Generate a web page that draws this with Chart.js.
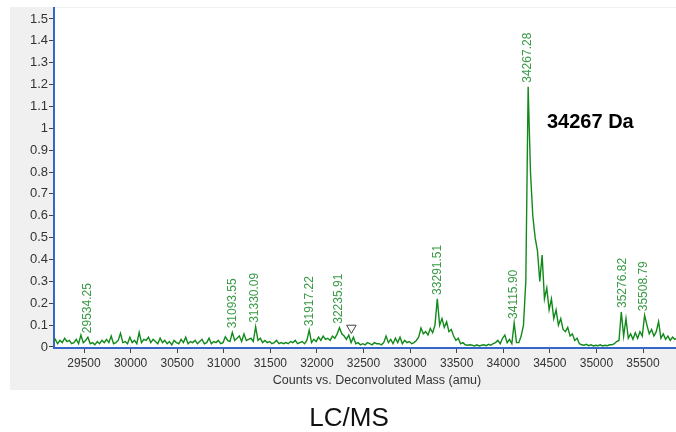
<!DOCTYPE html>
<html>
<head>
<meta charset="utf-8">
<script src="https://cdn.jsdelivr.net/npm/chart.js@4.4.0/dist/chart.umd.min.js"></script>
<style>
  body { margin: 0; background: #fff; overflow: hidden; }
  canvas { display: block; }
</style>
</head>
<body>
<canvas id="msChart" width="676" height="432"></canvas>
<script>
// deconvoluted mass spectrum, sampled every 25 amu starting at 29167
const massStart = 29167;
const massStep = 25;
const counts = [
  0.02, 0.035, 0.015, 0.03, 0.02, 0.04, 0.025, 0.03, 0.015, 0.02, 0.035, 0.015, 0.055, 0.02, 0.03, 0.045, 0.015, 0.02, 0.01, 0.025,
  0.015, 0.03, 0.02, 0.035, 0.02, 0.05, 0.015, 0.02, 0.03, 0.063, 0.02, 0.025, 0.015, 0.045, 0.02, 0.03, 0.015, 0.067, 0.02, 0.035,
  0.03, 0.045, 0.02, 0.035, 0.025, 0.015, 0.04, 0.02, 0.03, 0.015, 0.025, 0.01, 0.03, 0.02, 0.015, 0.035, 0.02, 0.045, 0.015, 0.025,
  0.02, 0.03, 0.015, 0.025, 0.035, 0.015, 0.02, 0.04, 0.015, 0.025, 0.02, 0.03, 0.015, 0.02, 0.047, 0.03, 0.025, 0.067, 0.03, 0.04,
  0.05, 0.025, 0.06, 0.03, 0.035, 0.04, 0.025, 0.092, 0.03, 0.04, 0.02, 0.03, 0.02, 0.025, 0.015, 0.02, 0.03, 0.015, 0.02, 0.015,
  0.02, 0.015, 0.025, 0.02, 0.03, 0.015, 0.02, 0.025, 0.015, 0.03, 0.077, 0.02, 0.035, 0.025, 0.045, 0.03, 0.05, 0.035, 0.04, 0.03,
  0.05, 0.04, 0.06, 0.088, 0.06, 0.05, 0.035, 0.055, 0.02, 0.045, 0.015, 0.02, 0.01, 0.015, 0.01, 0.02, 0.015, 0.01, 0.02, 0.015,
  0.015, 0.01, 0.02, 0.05, 0.02, 0.035, 0.015, 0.04, 0.02, 0.045, 0.015, 0.03, 0.02, 0.025, 0.015, 0.02, 0.03, 0.045, 0.087, 0.06,
  0.07, 0.055, 0.085, 0.065, 0.1, 0.22, 0.1, 0.13, 0.09, 0.115, 0.07, 0.08, 0.05, 0.03, 0.04, 0.015, 0.02, 0.01, 0.008, 0.01,
  0.008, 0.005, 0.01, 0.005, 0.008, 0.01, 0.006, 0.012, 0.008, 0.015, 0.02, 0.03, 0.015, 0.04, 0.055, 0.02, 0.035, 0.015, 0.11, 0.02,
  0.02, 0.05, 0.1, 0.3, 1.19, 0.8, 0.6, 0.5, 0.44, 0.3, 0.42, 0.22, 0.27, 0.17, 0.22, 0.13, 0.17, 0.1, 0.13, 0.08,
  0.07, 0.09, 0.05, 0.06, 0.03, 0.04, 0.015, 0.01, 0.008, 0.012, 0.006, 0.01, 0.005, 0.008, 0.006, 0.01, 0.005, 0.008, 0.006, 0.01,
  0.01, 0.015, 0.025, 0.03, 0.16, 0.05, 0.13, 0.04, 0.06, 0.035, 0.065, 0.04, 0.07, 0.05, 0.145, 0.1, 0.06, 0.08, 0.05, 0.07,
  0.116, 0.04, 0.06, 0.035, 0.05, 0.03, 0.045, 0.035, 0.04
];

// labelled peaks
const peakMasses = [29534.25, 31093.55, 31330.09, 31917.22, 32235.91, 33291.51, 34115.90, 34267.28, 35276.82, 35508.79];
const peakTops = [0.045, 0.067, 0.092, 0.077, 0.088, 0.22, 0.11, 1.19, 0.16, 0.145];

// open triangle marker
const markerMass = [32370];
const markerCount = [0.087];

const xTicks = [29500, 30000, 30500, 31000, 31500, 32000, 32500, 33000, 33500, 34000, 34500, 35000, 35500];
const yTicks = [0, 0.1, 0.2, 0.3, 0.4, 0.5, 0.6, 0.7, 0.8, 0.9, 1, 1.1, 1.2, 1.3, 1.4, 1.5];

const FONT = 'Arial, "Liberation Sans", sans-serif';

const spectrum = counts.map((c, i) => ({ x: massStart + i * massStep, y: c }));

// panel background, peak labels and extra text
const decorations = {
    id: "decorations",
    beforeDraw(chart) {
        const ctx = chart.ctx;
        const a = chart.chartArea;
        ctx.save();
        ctx.fillStyle = "#ffffff";
        ctx.fillRect(0, 0, chart.width, chart.height);
        ctx.fillStyle = "#f0f0f0";
        ctx.fillRect(10, 7, chart.width - 10, 383);
        ctx.fillStyle = "#ffffff";
        ctx.fillRect(a.left, a.top, chart.width - a.left, a.bottom - a.top);
        ctx.restore();
    },
    afterDatasetsDraw(chart) {
        const ctx = chart.ctx;
        const xs = chart.scales.x;
        const ys = chart.scales.y;
        ctx.save();
        ctx.font = "12px " + FONT;
        ctx.fillStyle = "#3a9a46";
        ctx.textAlign = "left";
        ctx.textBaseline = "middle";
        peakMasses.forEach((m, i) => {
            const px = xs.getPixelForValue(m);
            const py = ys.getPixelForValue(peakTops[i]) - 4;
            ctx.save();
            ctx.translate(px, py);
            ctx.rotate(-Math.PI / 2);
            ctx.fillText(m.toFixed(2), 0, 0);
            ctx.restore();
        });

        ctx.fillStyle = "#000";
        ctx.font = "bold 20px " + FONT;
        ctx.textAlign = "left";
        ctx.textBaseline = "alphabetic";
        ctx.fillText("34267 Da", 547, 128);

        ctx.fillStyle = "#333";
        ctx.font = "12.5px " + FONT;
        ctx.textAlign = "center";
        ctx.textBaseline = "middle";
        ctx.fillText("Counts vs. Deconvoluted Mass (amu)", 377, 381);

        ctx.fillStyle = "#111";
        ctx.font = "26px " + FONT;
        ctx.fillText("LC/MS", 349, 419);
        ctx.restore();
    }
};

const ctx = document.getElementById("msChart").getContext("2d");

new Chart(ctx, {
    type: "line",
    data: {
        datasets: [{
            data: spectrum,
            borderColor: "#128a1b",
            borderWidth: 1.4,
            pointRadius: 0,
            tension: 0,
            fill: false
        }, {
            type: "scatter",
            data: markerMass.map((m, i) => ({ x: m, y: markerCount[i] })),
            pointStyle: "triangle",
            rotation: 180,
            pointRadius: 5.5,
            borderColor: "#444",
            backgroundColor: "#ffffff",
            borderWidth: 1
        }]
    },
    options: {
        responsive: false,
        animation: false,
        layout: { autoPadding: false, padding: { top: 8, left: 0, right: 0, bottom: 0 } },
        plugins: {
            legend: { display: false },
            tooltip: { enabled: false }
        },
        scales: {
            x: {
                type: "linear",
                min: 29178,
                max: 35854,
                afterBuildTicks: scale => { scale.ticks = xTicks.map(v => ({ value: v })); },
                afterFit: scale => {
                    scale.height = 84;
                    scale.paddingLeft = 0;
                    scale.paddingRight = 0;
                },
                ticks: {
                    color: "#333",
                    font: { family: FONT, size: 12 },
                    padding: 3,
                    maxRotation: 0,
                    autoSkip: false,
                    callback: v => String(v)
                },
                grid: { drawOnChartArea: false, drawTicks: true, tickLength: 5, color: "#444" },
                border: { display: true, color: "#3566c8", width: 2 }
            },
            y: {
                type: "linear",
                min: -0.0046,
                max: 1.55,
                afterBuildTicks: scale => { scale.ticks = yTicks.map(v => ({ value: v })); },
                afterFit: scale => {
                    scale.width = 54;
                    scale.paddingTop = 0;
                    scale.paddingBottom = 0;
                },
                ticks: {
                    color: "#333",
                    font: { family: FONT, size: 13 },
                    padding: 1,
                    autoSkip: false,
                    callback: v => String(Math.round(v * 10) / 10)
                },
                grid: { drawOnChartArea: false, drawTicks: true, tickLength: 5, color: "#444" },
                border: { display: true, color: "#3566c8", width: 2 }
            }
        }
    },
    plugins: [decorations]
});
</script>
</body>
</html>
